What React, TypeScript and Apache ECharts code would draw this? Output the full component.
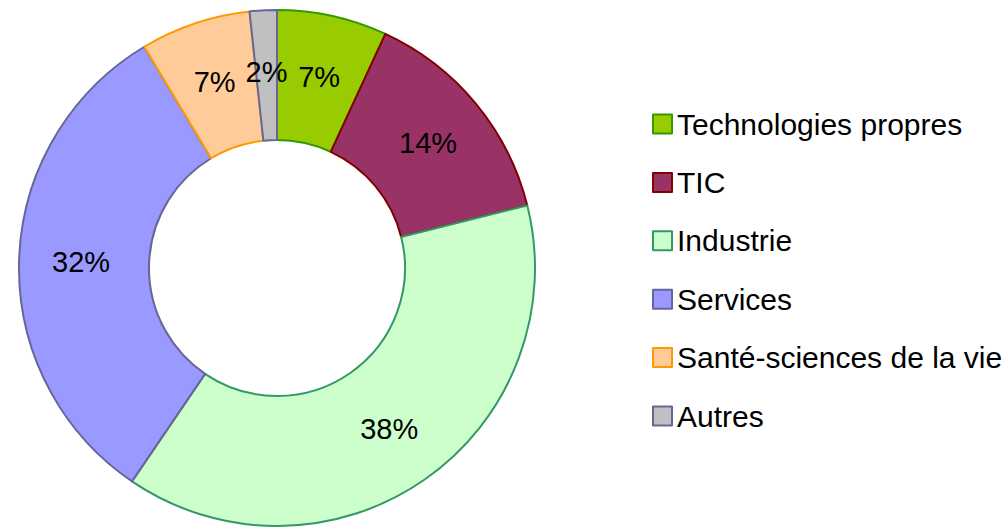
import React, { useEffect, useRef } from "react";
import * as echarts from "echarts";

const categories = [
  "Technologies propres",
  "TIC",
  "Industrie",
  "Services",
  "Santé-sciences de la vie",
  "Autres",
];
const values = [6.9, 14.2, 38.4, 31.9, 6.9, 1.7];
const fillColors = ["#99CC00", "#993366", "#CCFFCC", "#9999FF", "#FFCC99", "#C0C0C0"];
const borderColors = ["#339900", "#800000", "#339966", "#666699", "#FF9900", "#666699"];

export default function App() {
  const ref = useRef<HTMLDivElement>(null);
  useEffect(() => {
    if (!ref.current) return;
    const chart = echarts.init(ref.current, null, { renderer: "svg" });
    const font = "'Liberation Sans', Arial, sans-serif";
    chart.setOption({
      animation: false,
      backgroundColor: "#ffffff",
      legend: {
        orient: "vertical",
        left: 652,
        top: 100,
        padding: 0,
        icon: "rect",
        itemWidth: 19,
        itemHeight: 19,
        itemGap: 10.4,
        itemStyle: { borderWidth: 2 },
        textStyle: {
          fontFamily: font,
          fontSize: 30,
          color: "#000000",
          lineHeight: 30,
          padding: [0, 0, 18, 0],
        },
        data: categories,
      },
      series: [
        {
          type: "pie",
          center: [277, 268],
          radius: [128, 258],
          startAngle: 90,
          clockwise: true,
          avoidLabelOverlap: false,
          label: {
            show: true,
            position: "inside",
            fontFamily: font,
            fontSize: 29,
            color: "#000000",
            formatter: (p: any) => Math.round(p.percent) + "%",
          },
          labelLine: { show: false },
          emphasis: { disabled: true },
          data: categories.map((name, i) => ({
            name,
            value: values[i],
            itemStyle: {
              color: fillColors[i],
              borderColor: borderColors[i],
              borderWidth: 2,
            },
          })),
        },
      ],
    });
    return () => chart.dispose();
  }, []);
  return (
    <div
      ref={ref}
      style={{ position: "fixed", left: 0, top: 0, width: 1008, height: 528 }}
    />
  );
}
